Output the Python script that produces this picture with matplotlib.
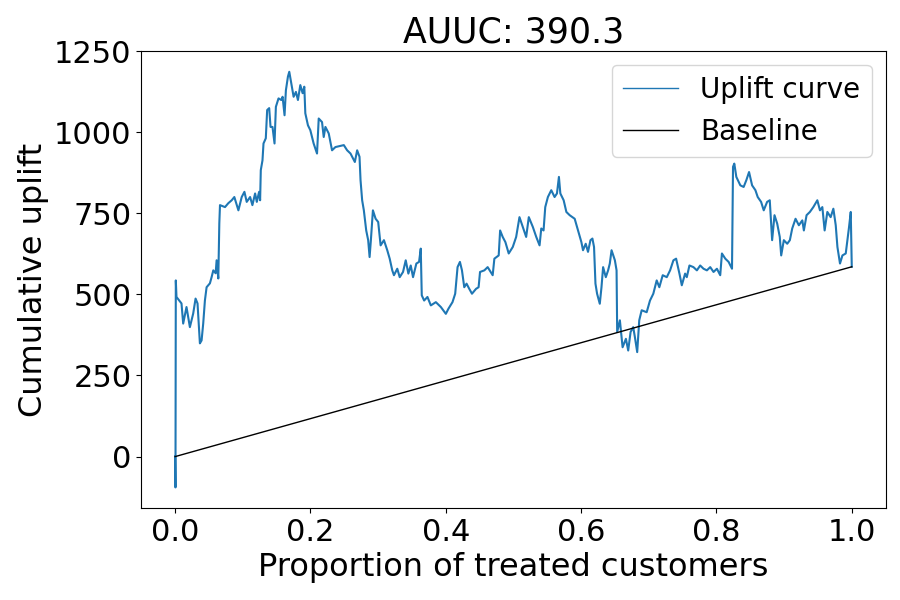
import numpy as np
import matplotlib
matplotlib.use("Agg")
import matplotlib.pyplot as plt

# uplift curve
prop = [0.0, 0.0005, 0.001, 0.002, 0.0094, 0.0119, 0.0168, 0.0218, 0.0267, 0.0302,
        0.0331, 0.0366, 0.0391, 0.0415, 0.0440, 0.0465, 0.0514, 0.0539, 0.0564, 0.0599,
        0.0613, 0.0638, 0.0653, 0.0663, 0.0737, 0.0786, 0.0836, 0.0875, 0.0935, 0.0984,
        0.1024, 0.1058, 0.1108, 0.1142, 0.1182, 0.1207, 0.1241, 0.1256, 0.1266, 0.1291,
        0.1306, 0.1340, 0.1360, 0.1390, 0.1410, 0.1439, 0.1469, 0.1489, 0.1528, 0.1568,
        0.1588, 0.1617, 0.1637, 0.1667, 0.1687, 0.1716, 0.1751, 0.1785, 0.1815, 0.1850,
        0.1884, 0.1909, 0.1924, 0.1963, 0.1998, 0.2047, 0.2097, 0.2122, 0.2171, 0.2196,
        0.2221, 0.2270, 0.2319, 0.2369, 0.2493, 0.2542, 0.2592, 0.2656, 0.2690, 0.2725,
        0.2740, 0.2764, 0.2789, 0.2824, 0.2853, 0.2874, 0.2893, 0.2923, 0.2963, 0.3001,
        0.3037, 0.3086, 0.3135, 0.3171, 0.3209, 0.3234, 0.3283, 0.3319, 0.3368, 0.3408,
        0.3447, 0.3482, 0.3516, 0.3565, 0.3605, 0.3630, 0.3645, 0.3680, 0.3729, 0.3779,
        0.3853, 0.3927, 0.4001, 0.4040, 0.4099, 0.4139, 0.4174, 0.4209, 0.4239, 0.4273,
        0.4307, 0.4347, 0.4387, 0.4447, 0.4485, 0.4506, 0.4570, 0.4619, 0.4693, 0.4718,
        0.4782, 0.4803, 0.4841, 0.4881, 0.4930, 0.4990, 0.5040, 0.5089, 0.5138, 0.5188,
        0.5227, 0.5286, 0.5337, 0.5386, 0.5411, 0.5445, 0.5470, 0.5509, 0.5559, 0.5608,
        0.5643, 0.5672, 0.5693, 0.5742, 0.5782, 0.5831, 0.5905, 0.5954, 0.6004, 0.6028,
        0.6068, 0.6102, 0.6138, 0.6167, 0.6191, 0.6212, 0.6236, 0.6276, 0.6301, 0.6325,
        0.6365, 0.6399, 0.6424, 0.6450, 0.6499, 0.6524, 0.6533, 0.6573, 0.6613, 0.6662,
        0.6696, 0.6731, 0.6770, 0.6795, 0.6829, 0.6859, 0.6895, 0.6969, 0.7018, 0.7067,
        0.7117, 0.7156, 0.7206, 0.7266, 0.7315, 0.7364, 0.7404, 0.7453, 0.7488, 0.7537,
        0.7562, 0.7601, 0.7660, 0.7711, 0.7760, 0.7809, 0.7859, 0.7908, 0.7957, 0.8007,
        0.8056, 0.8081, 0.8131, 0.8180, 0.8230, 0.8245, 0.8264, 0.8294, 0.8353, 0.8402,
        0.8442, 0.8482, 0.8527, 0.8576, 0.8610, 0.8660, 0.8699, 0.8749, 0.8788, 0.8823,
        0.8858, 0.8898, 0.8936, 0.8957, 0.8996, 0.9046, 0.9085, 0.9120, 0.9169, 0.9218,
        0.9269, 0.9292, 0.9332, 0.9381, 0.9432, 0.9491, 0.9530, 0.9565, 0.9599, 0.9639,
        0.9688, 0.9728, 0.9763, 0.9788, 0.9826, 0.9862, 0.9911, 0.9936, 0.9960, 0.9985,
        1.0]
uplift = [0, -95, 543, 492, 472, 410, 461, 399, 441, 487,
          472, 349, 358, 410, 481, 522, 534, 553, 574, 565,
          605, 549, 719, 775, 769, 781, 790, 800, 759, 800,
          816, 785, 800, 775, 811, 785, 816, 790, 883, 913,
          965, 981, 1068, 1074, 1016, 1016, 965, 1078, 1104, 1099,
          1109, 1052, 1129, 1171, 1186, 1151, 1109, 1124, 1099, 1145,
          1120, 1140, 1058, 1021, 1006, 965, 934, 1042, 1031, 985,
          1016, 996, 944, 954, 960, 944, 934, 908, 944, 924,
          852, 790, 759, 697, 667, 615, 667, 759, 733, 723,
          651, 667, 636, 610, 574, 559, 579, 553, 569, 605,
          564, 589, 553, 595, 600, 641, 497, 481, 492, 466,
          476, 461, 440, 456, 476, 502, 584, 600, 574, 522,
          533, 517, 502, 517, 522, 569, 574, 584, 559, 610,
          620, 697, 677, 661, 626, 646, 677, 738, 708, 677,
          738, 708, 677, 651, 703, 697, 769, 800, 821, 800,
          811, 862, 811, 790, 754, 744, 733, 697, 661, 636,
          656, 631, 667, 672, 646, 533, 502, 471, 522, 584,
          553, 574, 595, 636, 605, 574, 384, 420, 337, 363,
          327, 384, 399, 368, 322, 420, 451, 445, 481, 502,
          543, 522, 559, 553, 574, 605, 610, 564, 528, 564,
          553, 589, 584, 574, 589, 579, 574, 584, 569, 579,
          559, 626, 610, 600, 579, 893, 903, 862, 836, 831,
          852, 877, 836, 821, 800, 785, 759, 785, 790, 667,
          744, 718, 677, 620, 667, 656, 667, 703, 733, 713,
          728, 697, 744, 754, 769, 790, 759, 769, 697, 754,
          738, 764, 713, 646, 595, 620, 626, 667, 708, 754,
          585]

base_x = [0.0, 1.0]
base_y = [0, 585]
auuc = 390.3

plt.rcParams['font.size'] = 22

fig = plt.figure(figsize=(9, 6), dpi=100)
ax = fig.add_subplot(111)
fig.subplots_adjust(left=0.157, right=0.984, top=0.915, bottom=0.153)

ax.plot(prop, uplift, c='C0', lw=1.5, label="Uplift curve")
ax.plot(base_x, base_y, c='k', lw=1, label="Baseline")

ax.set_title("AUUC: %.1f" % auuc, fontsize=25)
ax.set_xlabel("Proportion of treated customers", fontsize=23)
ax.set_ylabel("Cumulative uplift", fontsize=23)
ax.set_yticks([0, 250, 500, 750, 1000, 1250])
leg = ax.legend(loc='upper right', fontsize=20)
for l in leg.get_lines():
    l.set_linewidth(1)

plt.savefig("out.png")
